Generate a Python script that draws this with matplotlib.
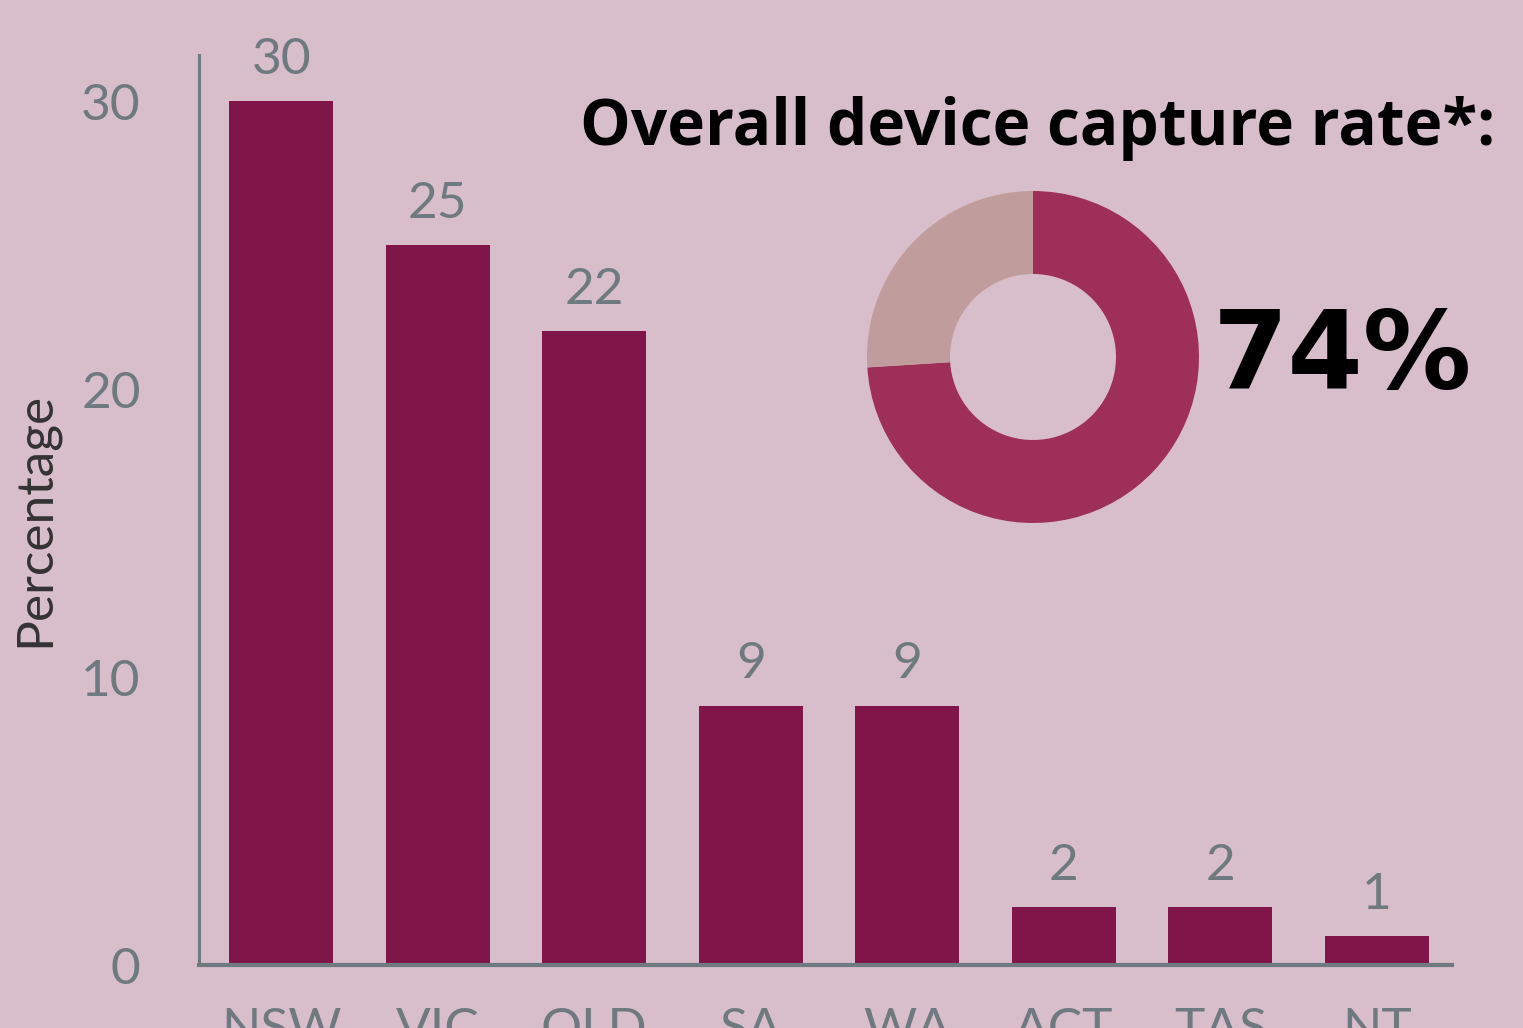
import matplotlib
matplotlib.use("Agg")
import matplotlib.pyplot as plt
import numpy as np

# data
states = ["NSW", "VIC", "QLD", "SA", "WA", "ACT", "TAS", "NT"]
share = [30, 25, 22, 9, 9, 2, 2, 1]
capture_rate = 74
donut_parts = [capture_rate, 100 - capture_rate]
yticks = [0, 10, 20, 30]

W, H = 1523, 1028
bg = "#d8bdca"
bar_col = "#7f1549"
grey = "#6e7a80"

fig = plt.figure(figsize=(W / 100, H / 100), dpi=100, facecolor=bg)

# bar chart axes (positions in pixels)
ax = fig.add_axes([199 / W, (H - 965) / H, (1452 - 199) / W, (965 - 55) / H])
ax.set_facecolor("none")
x = np.arange(len(states))
ax.bar(x, share, width=0.665, color=bar_col, zorder=2)
ax.set_xlim(-0.525, 7.48)
ax.set_ylim(0, 31.6)

for xi, v in zip(x, share):
    ax.text(xi, v + 0.95, str(v), ha="center", va="baseline",
            fontsize=37, color=grey, family="Lato")

ax.set_yticks(yticks)
ax.set_yticklabels([str(t) for t in yticks], fontsize=37, color=grey, family="Lato")
ax.set_xticks(x)
ax.set_xticklabels(states, fontsize=37, color=grey, family="Lato")
ax.tick_params(axis="y", length=0, pad=42)
ax.tick_params(axis="x", length=0, pad=30)
for s in ["top", "right"]:
    ax.spines[s].set_visible(False)
ax.spines["left"].set_color(grey)
ax.spines["left"].set_linewidth(2.2)
ax.spines["bottom"].set_color(grey)
ax.spines["bottom"].set_linewidth(3)
ax.set_ylabel("Percentage", fontsize=37, color="#333333", family="Lato")
ax.yaxis.set_label_coords(-141 / (1452 - 199), (965 - 519) / (965 - 55))

# donut
r = 166
dax = fig.add_axes([(1033 - r) / W, (H - 357 - r) / H, 2 * r / W, 2 * r / H])
dax.pie(donut_parts, colors=["#9e2f57", "#c09d9c"], startangle=90,
        counterclock=False, radius=1, wedgeprops=dict(width=0.5, linewidth=0))
dax.set_aspect("equal")
dax.set_xlim(-1, 1)
dax.set_ylim(-1, 1)

fig.text(580 / W, 1 - 145 / H, "Overall device capture rate*:", fontsize=46,
         fontweight="bold", color="black", ha="left", va="baseline", family="Open Sans")
fig.text(1213 / W, 1 - 388 / H, f"{capture_rate}%", fontsize=78,
         fontweight="bold", color="black", ha="left", va="baseline", family="DejaVu Sans")

fig.savefig("out.png", dpi=100, facecolor=bg)
